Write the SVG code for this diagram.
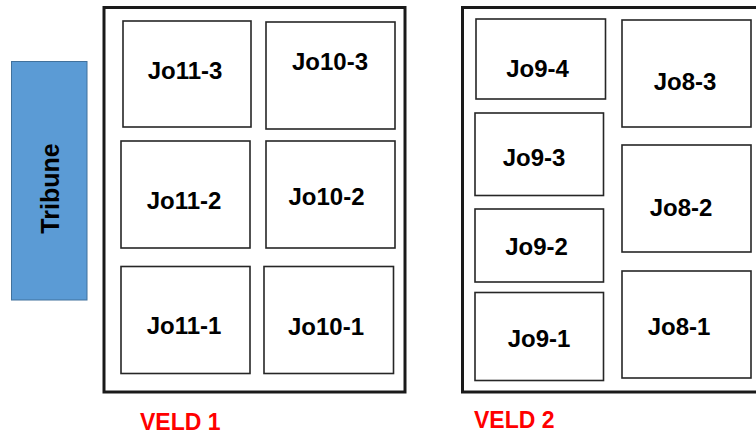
<svg xmlns="http://www.w3.org/2000/svg" width="756" height="437" viewBox="0 0 756 437">
<style>
.field{fill:#fff;stroke:#1a1a1a;stroke-width:3}
.box{fill:#fff;stroke:#262626;stroke-width:1.6}
.lbl{font-family:"Liberation Sans",Arial,sans-serif;font-weight:bold;font-size:24px;fill:#000;text-anchor:middle}
.veld{font-family:"Liberation Sans",Arial,sans-serif;font-weight:bold;font-size:23px;fill:#ff0000}
</style>
<rect width="756" height="437" fill="#fff"/>
<g id="tribune">
<rect x="11.5" y="61.5" width="75.5" height="238.5" fill="#5b9bd5" stroke="#41719c" stroke-width="1"/>
<text class="lbl" transform="translate(58.5,188.5) rotate(-90)" style="font-size:25px">Tribune</text>
</g>
<g id="veld1">
<rect class="field" x="104" y="7.5" width="301" height="384.5"/>
<text class="veld" x="140" y="430">VELD 1</text>
</g>
<g id="veld2">
<rect class="field" x="462.5" y="7.5" width="310" height="384.5"/>
<text class="veld" x="474" y="428">VELD 2</text>
</g>
<g id="jo11-3"><rect class="box" x="123" y="21" width="128" height="106"/><text class="lbl" x="185" y="79">Jo11-3</text></g>
<g id="jo10-3"><rect class="box" x="266" y="22" width="129" height="107"/><text class="lbl" x="330" y="70">Jo10-3</text></g>
<g id="jo11-2"><rect class="box" x="121" y="141" width="129" height="107"/><text class="lbl" x="184" y="209">Jo11-2</text></g>
<g id="jo10-2"><rect class="box" x="266" y="141" width="129" height="107"/><text class="lbl" x="326.5" y="205">Jo10-2</text></g>
<g id="jo11-1"><rect class="box" x="121" y="266.5" width="129" height="107"/><text class="lbl" x="184" y="334">Jo11-1</text></g>
<g id="jo10-1"><rect class="box" x="264" y="266.5" width="129.5" height="107"/><text class="lbl" x="326" y="335">Jo10-1</text></g>
<g id="jo9-4"><rect class="box" x="476" y="19" width="129.5" height="80"/><text class="lbl" x="537.5" y="77">Jo9-4</text></g>
<g id="jo8-3"><rect class="box" x="622" y="20" width="129" height="107"/><text class="lbl" x="685" y="90">Jo8-3</text></g>
<g id="jo9-3"><rect class="box" x="475" y="113" width="128.5" height="82.5"/><text class="lbl" x="534" y="165.5">Jo9-3</text></g>
<g id="jo8-2"><rect class="box" x="622" y="145" width="129" height="107"/><text class="lbl" x="681" y="216">Jo8-2</text></g>
<g id="jo9-2"><rect class="box" x="475" y="209" width="128.5" height="73"/><text class="lbl" x="536.5" y="255">Jo9-2</text></g>
<g id="jo9-1"><rect class="box" x="475" y="292.5" width="128.5" height="88"/><text class="lbl" x="539" y="346.5">Jo9-1</text></g>
<g id="jo8-1"><rect class="box" x="622" y="271" width="129" height="107"/><text class="lbl" x="679" y="335">Jo8-1</text></g>
</svg>
